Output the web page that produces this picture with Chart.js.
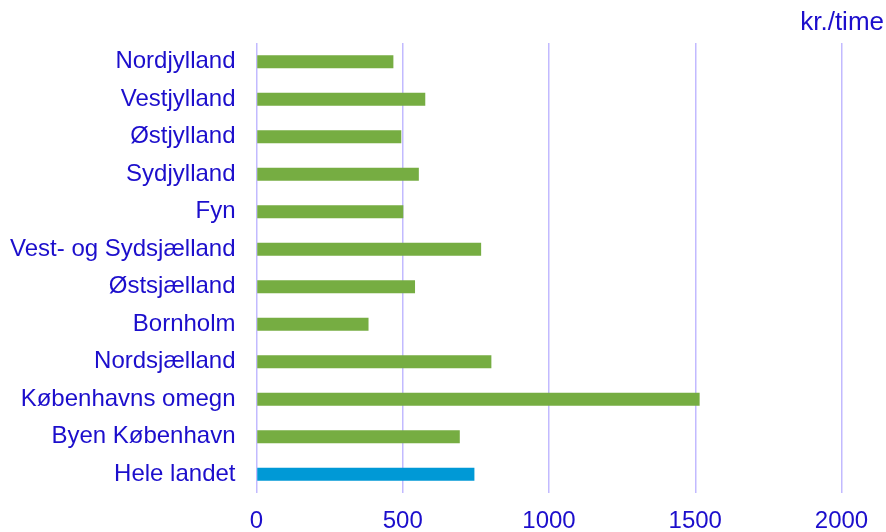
<!DOCTYPE html>
<html lang="da">
<head>
  <meta charset="UTF-8">
  <title>kr./time</title>
  <script src="https://cdn.jsdelivr.net/npm/chart.js"></script>
  <style>
    body { margin: 0; background: #fff; }
  </style>
</head>
<body>
  <canvas id="chart" width="886" height="532"></canvas>
  <script>
    const regions = [
      'Nordjylland', 'Vestjylland', 'Østjylland', 'Sydjylland', 'Fyn',
      'Vest- og Sydsjælland', 'Østsjælland', 'Bornholm', 'Nordsjælland',
      'Københavns omegn', 'Byen København', 'Hele landet'
    ]
    const values = [468, 577, 495, 555, 502, 768, 542, 383, 803, 1515, 695, 745]
    const xTicks = [0, 500, 1000, 1500, 2000]
    const unitLabel = 'kr./time'

    const textColor = '#1c0ecc'
    const gridColor = '#c2baff'
    const font = { family: '"Liberation Sans", Arial, sans-serif', size: 24 }

    // the national total is blue, the regions green
    const barColors = regions.map(r => r === 'Hele landet' ? '#0099d6' : '#76ad42')

    const unitPlugin = {
      id: 'unitLabel',
      afterDraw(chart) {
        const ctx = chart.ctx
        ctx.save()
        ctx.font = `26px ${font.family}`
        ctx.fillStyle = textColor
        ctx.textAlign = 'right'
        ctx.textBaseline = 'alphabetic'
        ctx.fillText(unitLabel, chart.width - 2, 30)
        ctx.restore()
      }
    }

    new Chart(document.getElementById('chart'), {
      type: 'bar',
      data: {
        labels: regions,
        datasets: [{
          data: values,
          backgroundColor: barColors,
          barPercentage: 0.35,
          categoryPercentage: 1,
        }]
      },
      options: {
        indexAxis: 'y',
        responsive: false,
        animation: false,
        layout: { padding: { top: 43, right: 44.5, left: 0, bottom: 0 } },
        plugins: {
          legend: { display: false },
          tooltip: { enabled: false },
        },
        scales: {
          x: {
            min: xTicks[0],
            max: xTicks[xTicks.length - 1],
            afterBuildTicks: (scale) => { scale.ticks = xTicks.map(v => ({ value: v })) },
            afterFit: (scale) => { scale.height = 39 },
            border: { display: false },
            grid: { color: gridColor, lineWidth: 1.5, drawTicks: false },
            ticks: {
              color: textColor,
              font: font,
              padding: 14,
              callback: (v) => String(v),
            },
          },
          y: {
            afterFit: (scale) => { scale.width = 256.5 },
            border: { display: false },
            grid: { display: false, drawTicks: false },
            ticks: { color: textColor, font: font, padding: 21, autoSkip: false },
          }
        }
      },
      plugins: [unitPlugin]
    })
  </script>
</body>
</html>
